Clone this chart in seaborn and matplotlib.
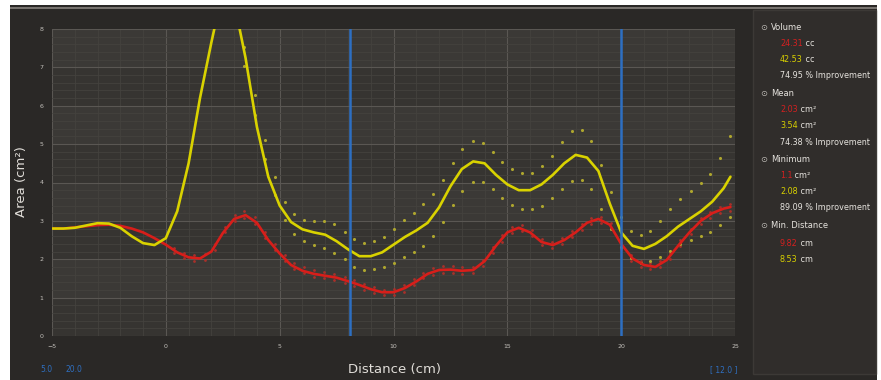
import numpy as np
import pandas as pd
import matplotlib
matplotlib.use("Agg")
import matplotlib.pyplot as plt
from matplotlib.patches import Rectangle
import seaborn as sns

# ---------------- data ----------------
yellow_x = [-5, -4.5, -4, -3.5, -3, -2.5, -2, -1.5, -1, -0.5, 0, 0.5, 1.0, 1.5, 2.0, 2.5, 3.0,
            3.5, 4.0, 4.5, 5.0, 5.5, 6.0, 6.5, 7.0, 7.5, 8.0, 8.5, 9.0, 9.5, 10.0, 10.5, 11.0,
            11.5, 12.0, 12.5, 13.0, 13.5, 14.0, 14.5, 15.0, 15.5, 16.0, 16.5, 17.0, 17.5, 18.0,
            18.5, 19.0, 19.5, 20.0, 20.5, 21.0, 21.5, 22.0, 22.5, 23.0, 23.5, 24.0, 24.5, 24.8]
yellow_y = [2.80, 2.80, 2.82, 2.88, 2.94, 2.93, 2.82, 2.60, 2.42, 2.37, 2.55, 3.25, 4.50, 6.20,
            7.65, 9.00, 8.70, 7.25, 5.45, 4.15, 3.40, 2.97, 2.78, 2.70, 2.64, 2.47, 2.26, 2.08,
            2.08, 2.18, 2.38, 2.58, 2.75, 2.95, 3.35, 3.90, 4.35, 4.55, 4.50, 4.20, 3.95, 3.80,
            3.80, 3.95, 4.20, 4.50, 4.72, 4.65, 4.30, 3.45, 2.70, 2.35, 2.27, 2.40, 2.60, 2.85,
            3.05, 3.25, 3.50, 3.85, 4.15]

red_x = yellow_x
red_y = [2.80, 2.80, 2.83, 2.86, 2.89, 2.90, 2.87, 2.80, 2.70, 2.55, 2.38, 2.18, 2.05, 2.02,
         2.20, 2.68, 3.05, 3.15, 2.95, 2.50, 2.15, 1.85, 1.70, 1.62, 1.57, 1.52, 1.43, 1.33,
         1.22, 1.14, 1.14, 1.25, 1.42, 1.62, 1.72, 1.73, 1.70, 1.72, 1.95, 2.35, 2.70, 2.82,
         2.70, 2.45, 2.37, 2.50, 2.70, 2.95, 3.05, 2.90, 2.40, 2.02, 1.85, 1.80, 1.98, 2.35,
         2.70, 3.00, 3.20, 3.32, 3.36]

dot_x = [3.45, 3.90, 4.35, 4.80, 5.22, 5.63, 6.08, 6.52, 6.96, 7.40, 7.85, 8.26, 8.70, 9.14,
         9.57, 10.01, 10.45, 10.90, 11.29, 11.73, 12.18, 12.62, 13.03, 13.47, 13.91, 14.35,
         14.77, 15.21, 15.65, 16.07, 16.51, 16.95, 17.40, 17.85, 18.27, 18.69, 19.11, 19.56,
         19.98, 20.42, 20.86, 21.28, 21.72, 22.16, 22.60, 23.05, 23.49, 23.90, 24.34, 24.78]
yellow_dots_hi = [7.53, 6.29, 5.10, 4.15, 3.50, 3.19, 3.02, 3.00, 3.00, 2.92, 2.71, 2.52, 2.43,
                  2.47, 2.59, 2.80, 3.02, 3.21, 3.43, 3.70, 4.06, 4.50, 4.87, 5.07, 5.02, 4.80,
                  4.54, 4.34, 4.25, 4.26, 4.43, 4.69, 5.05, 5.34, 5.36, 5.07, 4.45, 3.74, 3.11,
                  2.73, 2.63, 2.73, 2.99, 3.30, 3.56, 3.78, 3.98, 4.22, 4.64, 5.22]
yellow_dots_lo = [7.03, 5.77, 4.62, 3.67, 3.02, 2.67, 2.47, 2.38, 2.30, 2.16, 2.00, 1.81, 1.73,
                  1.74, 1.81, 1.91, 2.05, 2.18, 2.35, 2.60, 2.98, 3.41, 3.79, 4.01, 4.01, 3.84,
                  3.59, 3.41, 3.32, 3.30, 3.39, 3.59, 3.82, 4.04, 4.06, 3.82, 3.32, 2.80, 2.31,
                  2.02, 1.91, 1.95, 2.07, 2.22, 2.40, 2.50, 2.60, 2.72, 2.89, 3.11]

red_dot_x = [0.35, 0.80, 1.25, 1.70, 2.15, 2.60, 3.05] + dot_x
red_dots_hi = [2.30, 2.15, 2.10, 2.14, 2.40, 2.85, 3.15, 3.25, 3.10, 2.70, 2.40, 2.12, 1.90,
               1.80, 1.72, 1.66, 1.62, 1.55, 1.46, 1.36, 1.28, 1.20, 1.22, 1.32, 1.48, 1.65,
               1.78, 1.82, 1.82, 1.80, 1.80, 1.98, 2.32, 2.63, 2.85, 2.90, 2.76, 2.53, 2.46,
               2.55, 2.74, 2.93, 3.08, 3.10, 2.95, 2.45, 2.12, 1.95, 1.90, 1.96, 2.16, 2.50,
               2.80, 3.08, 3.24, 3.36, 3.44]
red_dots_lo = [2.15, 2.02, 1.95, 1.98, 2.25, 2.70, 3.00, 3.08, 2.92, 2.55, 2.25, 1.95, 1.75,
               1.65, 1.55, 1.50, 1.45, 1.38, 1.30, 1.20, 1.12, 1.06, 1.07, 1.15, 1.32, 1.50,
               1.60, 1.64, 1.64, 1.62, 1.63, 1.82, 2.15, 2.46, 2.68, 2.73, 2.60, 2.37, 2.30,
               2.40, 2.58, 2.76, 2.92, 2.94, 2.78, 2.28, 1.96, 1.80, 1.75, 1.80, 2.00, 2.35,
               2.65, 2.92, 3.07, 3.20, 3.27]

markers_x = [8.1, 20.0]
x_ticks = [-5, 0, 5, 10, 15, 20, 25]
y_ticks = [0, 1, 2, 3, 4, 5, 6, 7, 8]

panel_rows = [
    ("head", "Volume"),
    ("red", "24.31", " cc"),
    ("yel", "42.53", " cc"),
    ("txt", "74.95 % Improvement"),
    ("head", "Mean"),
    ("red", "2.03", " cm²"),
    ("yel", "3.54", " cm²"),
    ("txt", "74.38 % Improvement"),
    ("head", "Minimum"),
    ("red", "1.1", " cm²"),
    ("yel", "2.08", " cm²"),
    ("txt", "89.09 % Improvement"),
    ("head", "Min. Distance"),
    ("red", "9.82", " cm"),
    ("yel", "8.53", " cm"),
]
panel_y = [27, 44, 60, 76, 93, 110, 126, 142, 159, 175, 191, 208, 226, 243, 260]

# ---------------- style ----------------
sns.set_theme(style="dark")
plt.rcParams['font.family'] = ['DejaVu Sans']

W, H = 881, 380
fig = plt.figure(figsize=(W / 100, H / 100), dpi=100, facecolor="white")

def fx(px):
    return px / W

def fy(py):
    return 1 - py / H

BG = "#2a2826"
fig.patches.append(Rectangle((fx(10), 0), fx(867), fy(5), transform=fig.transFigure,
                             facecolor=BG, edgecolor="none", zorder=-10))
fig.patches.append(Rectangle((fx(10), fy(9)), fx(867), 2 / H, transform=fig.transFigure,
                             facecolor="#77736f", edgecolor="none", zorder=-9))
fig.patches.append(Rectangle((fx(753), fy(374)), fx(123), (374 - 10) / H,
                             transform=fig.transFigure, facecolor="#302d2b",
                             edgecolor="#3c3936", lw=1, zorder=-8))

ax = fig.add_axes([fx(52), fy(336), fx(735 - 52), (336 - 29) / H])
ax.set_facecolor("#3b3936")

for k in range(8):
    if k % 2 == 0:
        ax.axhspan(k, k + 1, color="#363431", zorder=0, lw=0)

ax.set_xlim(-5, 25)
ax.set_ylim(0, 8)
ax.set_xticks(x_ticks)
ax.set_yticks(y_ticks)
ax.set_xticks(np.arange(-5, 26, 1), minor=True)
ax.set_yticks(np.arange(0, 8.01, 0.2), minor=True)
ax.grid(which="major", color="#5a5753", lw=0.8)
ax.grid(which="minor", color="#44423e", lw=0.6)
ax.set_axisbelow(True)
for s in ax.spines.values():
    s.set_visible(False)
ax.tick_params(which="both", length=0, labelsize=4.5, labelcolor="#c4c1bc", pad=6)

line_df = pd.DataFrame({"x": yellow_x, "yellow": yellow_y, "red": red_y})
dots_y = pd.DataFrame({"x": dot_x + dot_x, "y": yellow_dots_hi + yellow_dots_lo})
dots_r = pd.DataFrame({"x": red_dot_x + red_dot_x, "y": red_dots_hi + red_dots_lo})

sns.scatterplot(data=dots_r, x="x", y="y", ax=ax, color="#a8302a", s=4, linewidth=0,
                zorder=3, legend=False)
sns.scatterplot(data=dots_y, x="x", y="y", ax=ax, color="#aea62e", s=5, linewidth=0,
                zorder=3, legend=False)
sns.lineplot(data=line_df, x="x", y="red", ax=ax, color="#d81e1a", lw=1.9, zorder=4,
             sort=False, estimator=None, solid_joinstyle="round", solid_capstyle="round")
sns.lineplot(data=line_df, x="x", y="yellow", ax=ax, color="#d9d200", lw=1.9, zorder=5,
             sort=False, estimator=None, solid_joinstyle="round", solid_capstyle="round")
for m in markers_x:
    ax.axvline(m, color="#2d6fc2", lw=1.8, zorder=6)

ax.set_xlabel("")
ax.set_ylabel("")

fig.text(fx(22), fy(182), "Area (cm²)", rotation=90, ha="center", va="center",
         fontsize=9.5, color="#e0ddd8")
fig.text(fx(395), fy(370), "Distance (cm)", ha="center", va="center",
         fontsize=9.5, color="#e0ddd8")
fig.text(fx(40), fy(370), "5.0", ha="left", va="center", fontsize=5.5, color="#2f6fc0")
fig.text(fx(65), fy(370), "20.0", ha="left", va="center", fontsize=5.5, color="#2f6fc0")
fig.text(fx(737), fy(370), "[ 12.0 ]", ha="right", va="center", fontsize=5.5, color="#2f6fc0")

for row, py in zip(panel_rows, panel_y):
    kind = row[0]
    if kind == "head":
        fig.text(fx(760), fy(py), "⊙", ha="left", va="center", fontsize=6, color="#bbb8b3")
        fig.text(fx(771), fy(py), row[1], ha="left", va="center", fontsize=6,
                 color="#e6e3de")
    elif kind == "txt":
        fig.text(fx(780), fy(py), row[1], ha="left", va="center", fontsize=5.8,
                 color="#e6e3de")
    else:
        col = "#d42020" if kind == "red" else "#d8d000"
        t = fig.text(fx(780), fy(py), row[1], ha="left", va="center", fontsize=5.8,
                     color=col)
        ann = matplotlib.text.Annotation(row[2], xy=(1, 0.5), xycoords=t, ha="left",
                                         va="center", fontsize=5.8, color="#e6e3de")
        fig.add_artist(ann)

fig.savefig("out.png", dpi=100, facecolor=fig.get_facecolor())
